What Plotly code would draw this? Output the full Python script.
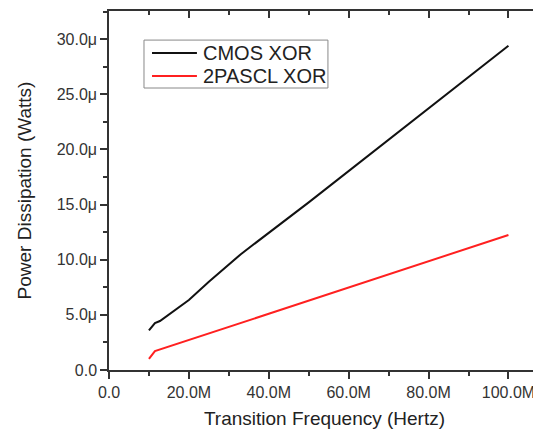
import plotly.graph_objects as go

# Data (frequency in MHz, power in microwatts)
cmos_freq = [10, 11.5, 12.75, 20, 25, 33, 50, 75, 100]
cmos_power = [3.6, 4.26, 4.44, 6.35, 8.0, 10.5, 15.2, 22.3, 29.4]
pascl_freq = [10, 11.5, 40, 70, 100]
pascl_power = [1.0, 1.72, 5.1, 8.65, 12.24]

x_tickvals = [0, 20, 40, 60, 80, 100]
x_ticktext = ["0.0", "20.0M", "40.0M", "60.0M", "80.0M", "100.0M"]
y_tickvals = [0, 5, 10, 15, 20, 25, 30]
y_ticktext = ["0.0", "5.0μ", "10.0μ", "15.0μ", "20.0μ", "25.0μ", "30.0μ"]

series_names = ["CMOS XOR", "2PASCL XOR"]
series_colors = ["#111111", "#ff2020"]

font_family = "Liberation Sans, Arial, sans-serif"
axis_color = "#333333"

fig = go.Figure()
fig.add_trace(go.Scatter(x=cmos_freq, y=cmos_power, mode="lines", name=series_names[0],
                         line=dict(color=series_colors[0], width=2), showlegend=False))
fig.add_trace(go.Scatter(x=pascl_freq, y=pascl_power, mode="lines", name=series_names[1],
                         line=dict(color=series_colors[1], width=2), showlegend=False))

xr = [0, 107.9]
yr = [0, 32.55]

common_axis = dict(showgrid=False, zeroline=False, showline=True, linecolor=axis_color,
                   linewidth=1.5, tickcolor=axis_color, tickwidth=1.5, ticklen=7,
                   automargin=False)

x_minor = [10, 30, 50, 70, 90]
y_minor = [2.5, 7.5, 12.5, 17.5, 22.5, 27.5, 32.5]

fig.update_layout(
    width=533, height=424,
    margin=dict(l=101, r=1, t=3, b=62),
    paper_bgcolor="white", plot_bgcolor="white",
    font=dict(family=font_family, color=axis_color),
    showlegend=False,
    xaxis=dict(range=xr, tickvals=x_tickvals, ticktext=x_ticktext, ticks="outside",
               tickfont=dict(size=16, color=axis_color),
               title=dict(text="Transition Frequency (Hertz)", font=dict(size=19, color="#222222"), standoff=12),
               minor=dict(tickvals=x_minor, ticks="outside", ticklen=4,
                          tickcolor=axis_color, tickwidth=1.5),
               **common_axis),
    yaxis=dict(range=yr, tickvals=y_tickvals, ticktext=y_ticktext, ticks="outside",
               tickfont=dict(size=16, color=axis_color),
               title=dict(text="Power Dissipation (Watts)", font=dict(size=19, color="#222222"), standoff=20),
               minor=dict(tickvals=y_minor, ticks="outside", ticklen=4,
                          tickcolor=axis_color, tickwidth=1.5),
               **common_axis),
    xaxis2=dict(range=xr, overlaying="x", side="top", tickvals=x_tickvals, showticklabels=False,
                ticks="inside", anchor="y",
                minor=dict(tickvals=x_minor, ticks="inside", ticklen=4,
                           tickcolor=axis_color, tickwidth=1.5),
                **common_axis),
    yaxis2=dict(range=yr, overlaying="y", side="right", tickvals=y_tickvals, showticklabels=False,
                ticks="inside", anchor="x",
                minor=dict(tickvals=y_minor, ticks="inside", ticklen=4,
                           tickcolor=axis_color, tickwidth=1.5),
                **common_axis),
)
# invisible trace to activate the mirrored axes
fig.add_trace(go.Scatter(x=[None], y=[None], xaxis="x2", yaxis="y2", showlegend=False, hoverinfo="skip"))

# Custom legend box (compact, like the original)
fig.add_shape(type="rect", xref="paper", yref="paper", x0=0.0812, x1=0.508, y0=0.7855, y1=0.919,
              line=dict(color="#888888", width=1), fillcolor="white", layer="above")
legend_rows_y = [0.883, 0.819]
for name, color, ly in zip(series_names, series_colors, legend_rows_y):
    fig.add_shape(type="line", xref="paper", yref="paper", x0=0.0998, x1=0.204, y0=ly, y1=ly,
                  line=dict(color=color, width=2), layer="above")
    fig.add_annotation(xref="paper", yref="paper", x=0.2135, y=ly, text=name, showarrow=False,
                       xanchor="left", yanchor="middle",
                       font=dict(size=20, color="#222222", family=font_family))

fig.write_html("out.html")
